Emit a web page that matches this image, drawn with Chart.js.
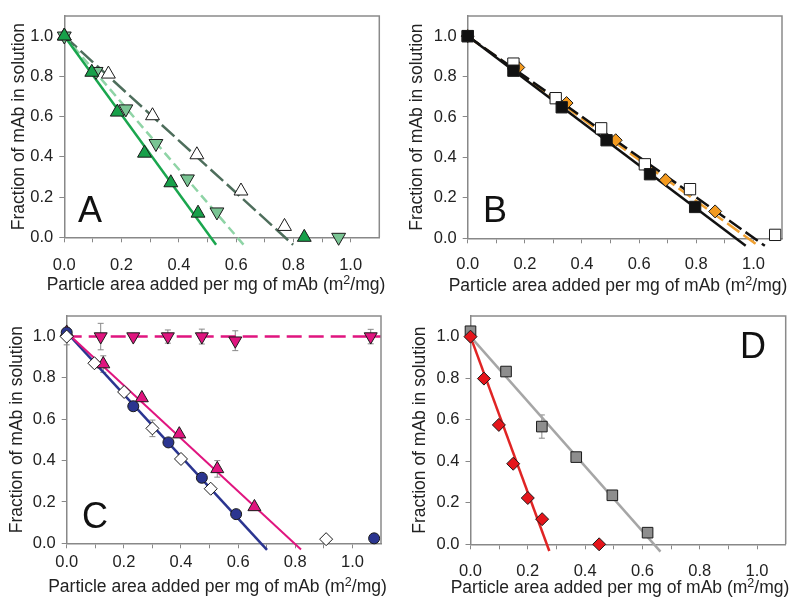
<!DOCTYPE html>
<html lang="en">
<head>
<meta charset="UTF-8">
<title>Fraction of mAb in solution</title>
<script src="https://cdn.jsdelivr.net/npm/chart.js"></script>
<style>
    body { margin: 0; background: #fff; }
    #wrap { position: relative; width: 800px; height: 609px; }
    canvas { position: absolute; }
</style>
</head>
<body>
<div id="wrap">
    <canvas id="chartA" width="400" height="300" style="left:0;top:0"></canvas>
    <canvas id="chartB" width="400" height="300" style="left:400px;top:0"></canvas>
    <canvas id="chartC" width="400" height="309" style="left:0;top:300px"></canvas>
    <canvas id="chartD" width="400" height="309" style="left:400px;top:300px"></canvas>
</div>
<script>
// tick labels
const xTicks = [0, 0.1, 0.2, 0.3, 0.4, 0.5, 0.6, 0.7, 0.8, 0.9, 1.0];
const yTicks = [0, 0.2, 0.4, 0.6, 0.8, 1.0];

// panel A
const aFilledX = [0, 0.096, 0.185, 0.28, 0.372, 0.467, 0.838];
const aFilledY = [1.0, 0.82, 0.622, 0.418, 0.271, 0.12, 0];
const aLightX = [0, 0.111, 0.215, 0.32, 0.43, 0.533, 0.958];
const aLightY = [1.0, 0.824, 0.638, 0.466, 0.29, 0.126, 0];
const aOpenX = [0, 0.154, 0.308, 0.463, 0.617, 0.769];
const aOpenY = [1.0, 0.811, 0.604, 0.41, 0.23, 0.054];
const aFilledFitX = [0, 0.53], aFilledFitY = [1, -0.037];
const aLightFitX = [0, 0.626], aLightFitY = [1, -0.037];
const aOpenFitX = [0, 0.799], aOpenFitY = [1, -0.037];

// panel B
const bFilledX = [0, 0.16, 0.329, 0.486, 0.638, 0.796];
const bFilledY = [1.0, 0.829, 0.648, 0.485, 0.317, 0.155];
const bOpenX = [0, 0.16, 0.308, 0.467, 0.62, 0.778, 1.076];
const bOpenY = [1.0, 0.864, 0.693, 0.544, 0.366, 0.243, 0.017];
const bOrangeX = [0, 0.177, 0.346, 0.518, 0.693, 0.866];
const bOrangeY = [1.0, 0.845, 0.669, 0.485, 0.288, 0.133];
const bFilledFitX = [0, 0.973], bFilledFitY = [1, -0.037];
const bOpenFitX = [0, 1.04], bOpenFitY = [1, -0.037];
const bOrangeFitX = [0, 1.017], bOrangeFitY = [1, -0.037];

// panel C
const cDownX = [0.119, 0.233, 0.354, 0.473, 0.59, 1.064];
const cDownY = [1.0, 1.0, 1.0, 1.0, 0.98, 1.0];
const cDownErr = [0.064, 0.01, 0.032, 0.036, 0.048, 0.035];
const cUpX = [0, 0.128, 0.263, 0.394, 0.527, 0.657];
const cUpY = [1.02, 0.867, 0.703, 0.528, 0.36, 0.176];
const cUpErr = [0, 0.04, 0, 0, 0.04, 0];
const cCircX = [0, 0.233, 0.356, 0.473, 0.593, 1.076];
const cCircY = [1.02, 0.663, 0.488, 0.317, 0.141, 0.024];
const cDiamX = [0, 0.097, 0.201, 0.3, 0.4, 0.504, 0.908];
const cDiamY = [1.0, 0.871, 0.732, 0.556, 0.408, 0.264, 0.02];
const cDiamErr = [0.04, 0, 0, 0.04, 0, 0, 0];
const cDownFitX = [0, 1.1], cDownFitY = [1, 1];
const cUpFitX = [0, 0.82], cUpFitY = [1.02, -0.03];
const cCircFitX = [0, 0.701], cCircFitY = [1.02, -0.032];

// panel D
const dSqX = [0, 0.124, 0.249, 0.369, 0.495, 0.618];
const dSqY = [1.026, 0.832, 0.567, 0.42, 0.236, 0.056];
const dSqErr = [0, 0, 0.056, 0.01, 0, 0];
const dDiaX = [0, 0.047, 0.099, 0.149, 0.2, 0.25, 0.449];
const dDiaY = [1.0, 0.798, 0.575, 0.388, 0.223, 0.121, 0];
const dSqFitX = [0, 0.663], dSqFitY = [1, -0.035];
const dDiaFitX = [0, 0.275], dDiaFitY = [1, -0.032];

const fam = "'Liberation Sans', Arial, Helvetica, sans-serif";
const yTitle = 'Fraction of mAb in solution';

function pts(xs, ys) {
    return xs.map((x, i) => ({ x: x, y: ys[i] }));
}

function markers(xs, ys, style, fill, radius, rot) {
    return {
        data: pts(xs, ys),
        pointStyle: style,
        rotation: rot || 0,
        backgroundColor: fill,
        borderColor: '#1a1a1a',
        borderWidth: 1,
        pointRadius: radius,
        pointHoverRadius: radius,
        showLine: false,
        clip: false,
        order: 0
    };
}

function fitLine(xs, ys, color, dash, width) {
    return {
        data: pts(xs, ys),
        showLine: true,
        borderColor: color,
        borderWidth: width || 2,
        borderDash: dash || [],
        pointRadius: 0,
        clip: false,
        order: 1
    };
}

function makePanel(id, g, datasets, errs) {
    const canvas = document.getElementById(id);
    const W = canvas.width, H = canvas.height;

    const decor = {
        id: 'decor',
        beforeDatasetsDraw(chart) {
            const ctx = chart.ctx, xs = chart.scales.x, ys = chart.scales.y;
            ctx.save();
            ctx.strokeStyle = '#888';
            ctx.lineWidth = 1;
            errs.forEach(e => {
                e.xs.forEach((xv, i) => {
                    if (!e.err[i]) return;
                    const px = xs.getPixelForValue(xv);
                    const y1 = ys.getPixelForValue(e.ys[i] + e.err[i]);
                    const y2 = ys.getPixelForValue(e.ys[i] - e.err[i]);
                    ctx.beginPath();
                    ctx.moveTo(px, y1); ctx.lineTo(px, y2);
                    ctx.moveTo(px - 3, y1); ctx.lineTo(px + 3, y1);
                    ctx.moveTo(px - 3, y2); ctx.lineTo(px + 3, y2);
                    ctx.stroke();
                });
            });
            ctx.restore();
        },
        afterDraw(chart) {
            const ctx = chart.ctx, ca = chart.chartArea;
            ctx.save();
            // top and right frame
            ctx.strokeStyle = '#8a8a8a';
            ctx.lineWidth = 1.5;
            ctx.beginPath();
            ctx.moveTo(ca.left, ca.top);
            ctx.lineTo(ca.right, ca.top);
            ctx.lineTo(ca.right, ca.bottom);
            ctx.stroke();

            ctx.fillStyle = '#222';
            // y title
            ctx.font = '17.5px ' + fam;
            ctx.save();
            ctx.translate(g.yTitleX, (ca.top + ca.bottom) / 2);
            ctx.rotate(-Math.PI / 2);
            ctx.textAlign = 'center';
            ctx.textBaseline = 'middle';
            ctx.fillText(yTitle, 0, 0);
            ctx.restore();

            // x title with superscript
            const p1 = 'Particle area added per mg of mAb (m', p2 = '2', p3 = '/mg)';
            ctx.textAlign = 'left';
            ctx.textBaseline = 'alphabetic';
            ctx.font = '17.5px ' + fam;
            const w1 = ctx.measureText(p1).width, w3 = ctx.measureText(p3).width;
            ctx.font = '12.5px ' + fam;
            const w2 = ctx.measureText(p2).width;
            let x0 = g.xTitleX - (w1 + w2 + w3) / 2;
            ctx.font = '17.5px ' + fam;
            ctx.fillText(p1, x0, g.xTitleY);
            ctx.font = '12.5px ' + fam;
            ctx.fillText(p2, x0 + w1, g.xTitleY - 6);
            ctx.font = '17.5px ' + fam;
            ctx.fillText(p3, x0 + w1 + w2, g.xTitleY);

            // panel letter
            ctx.font = '36px ' + fam;
            ctx.fillStyle = '#111';
            ctx.fillText(g.letter, g.letterX, g.letterY);
            ctx.restore();
        }
    };

    return new Chart(canvas, {
        type: 'scatter',
        data: { datasets: datasets },
        options: {
            responsive: false,
            animation: false,
            devicePixelRatio: 1,
            layout: { padding: { left: 0, top: g.top, right: W - g.right, bottom: 0 } },
            plugins: { legend: { display: false }, tooltip: { enabled: false } },
            scales: {
                x: {
                    type: 'linear', min: 0, max: 1.1,
                    afterBuildTicks: s => { s.ticks = xTicks.map(v => ({ value: v })); },
                    afterFit: s => { s.height = H - g.bottom; },
                    ticks: {
                        autoSkip: false, maxRotation: 0, padding: g.xPad, color: '#222',
                        font: { family: fam, size: 16.5 },
                        callback: v => (Math.round(v * 10) % 2 === 0 ? v.toFixed(1) : '')
                    },
                    grid: { drawOnChartArea: false, drawTicks: true, tickLength: 5, color: '#888' },
                    border: { display: true, color: '#888', width: 1.5 }
                },
                y: {
                    type: 'linear', min: 0, max: 1.1,
                    afterBuildTicks: s => { s.ticks = yTicks.map(v => ({ value: v })); },
                    afterFit: s => { s.width = g.left; },
                    ticks: {
                        padding: 6, color: '#222',
                        font: { family: fam, size: 16.5 },
                        callback: v => v.toFixed(1)
                    },
                    grid: { drawOnChartArea: false, drawTicks: true, tickLength: 5, color: '#888' },
                    border: { display: true, color: '#888', width: 1.5 }
                }
            }
        },
        plugins: [decor]
    });
}

makePanel('chartA',
    { left: 64.3, right: 379.3, top: 7.3, bottom: 237.3, xPad: 13, yTitleX: 19, xTitleX: 216, xTitleY: 290, letter: 'A', letterX: 78, letterY: 222 },
    [
        markers(aFilledX, aFilledY, 'triangle', '#17a04a', 8),
        markers(aLightX, aLightY, 'triangle', '#79c493', 8, 180),
        markers(aOpenX, aOpenY, 'triangle', '#ffffff', 8),
        fitLine(aFilledFitX, aFilledFitY, '#1aa64e', [], 2.5),
        fitLine(aLightFitX, aLightFitY, '#8fd4a6', [9, 5], 2.5),
        fitLine(aOpenFitX, aOpenFitY, '#4e6e5c', [17, 5], 2.5)
    ],
    []
);

makePanel('chartB',
    { left: 67.7, right: 382, top: 8.3, bottom: 238.3, xPad: 11, yTitleX: 17, xTitleX: 218, xTitleY: 291, letter: 'B', letterX: 83, letterY: 222 },
    [
        markers(bFilledX, bFilledY, 'rect', '#111111', 8),
        markers(bOpenX, bOpenY, 'rect', '#ffffff', 8),
        markers(bOrangeX, bOrangeY, 'rectRot', '#f39a1f', 6.5),
        fitLine(bFilledFitX, bFilledFitY, '#111111', [], 2.5),
        fitLine(bOpenFitX, bOpenFitY, '#111111', [15, 5], 2.5),
        fitLine(bOrangeFitX, bOrangeFitY, '#f0a030', [15, 5], 2.5)
    ],
    []
);

makePanel('chartC',
    { left: 66.7, right: 381, top: 14, bottom: 243.3, xPad: 4, yTitleX: 17, xTitleX: 217.5, xTitleY: 291.7, letter: 'C', letterX: 82, letterY: 228 },
    [
        markers(cDiamX, cDiamY, 'rectRot', '#ffffff', 6.5),
        markers(cCircX, cCircY, 'circle', '#2b3590', 5.5),
        markers(cUpX, cUpY, 'triangle', '#e0157f', 7.5),
        markers(cDownX, cDownY, 'triangle', '#e0157f', 7.5, 180),
        fitLine(cDownFitX, cDownFitY, '#e0157f', [15, 7], 2.5),
        fitLine(cUpFitX, cUpFitY, '#e0157f', [], 2),
        fitLine(cCircFitX, cCircFitY, '#2b3590', [], 2.5)
    ],
    [
        { xs: cDownX, ys: cDownY, err: cDownErr },
        { xs: cUpX, ys: cUpY, err: cUpErr },
        { xs: cDiamX, ys: cDiamY, err: cDiamErr }
    ]
);

makePanel('chartD',
    { left: 70.5, right: 385.7, top: 15, bottom: 244.3, xPad: 12, yTitleX: 20, xTitleX: 220, xTitleY: 293, letter: 'D', letterX: 340, letterY: 58 },
    [
        markers(dDiaX, dDiaY, 'rectRot', '#e5151b', 6.5),
        markers(dSqX, dSqY, 'rect', '#8e8e8e', 7.5),
        fitLine(dSqFitX, dSqFitY, '#a6a6a6', [], 2.5),
        fitLine(dDiaFitX, dDiaFitY, '#e02424', [], 2.5)
    ],
    [
        { xs: dSqX, ys: dSqY, err: dSqErr }
    ]
);
</script>
</body>
</html>
